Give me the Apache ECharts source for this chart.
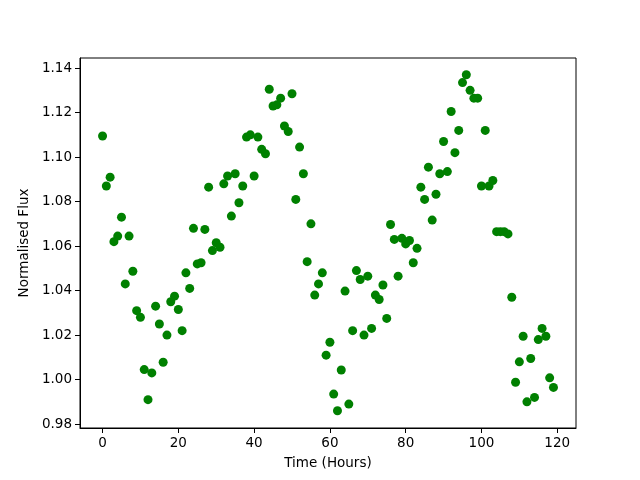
<!DOCTYPE html>
<html>
<head>
<meta charset="utf-8">
<script src="https://cdn.jsdelivr.net/npm/echarts@6/dist/echarts.min.js"></script>
<style>
  html, body { margin: 0; padding: 0; background: #fff; }
  #chart { width: 640px; height: 480px; }
</style>
</head>
<body>
<div id="chart"></div>
<script>
// hours of observation
const hours = [];
for (let h = 0; h < 120; h++) hours.push(h);

// normalised flux
const flux = [
  1.1095, 1.087, 1.091, 1.062, 1.0645, 1.073, 1.043, 1.0645, 1.0487, 1.031,
  1.028, 1.0045, 0.991, 1.003, 1.033, 1.025, 1.0078, 1.020, 1.035, 1.0375,
  1.0315, 1.022, 1.048, 1.041, 1.068, 1.052, 1.0525, 1.0675, 1.0865, 1.058,
  1.0615, 1.0595, 1.088, 1.0915, 1.0735, 1.0925, 1.0795, 1.087, 1.109, 1.110,
  1.0915, 1.109, 1.1035, 1.1015, 1.1305, 1.123, 1.1235, 1.1265, 1.114, 1.1115,
  1.1285, 1.081, 1.1045, 1.0925, 1.053, 1.070, 1.038, 1.043, 1.048, 1.011,
  1.0168, 0.9935, 0.986, 1.0043, 1.0398, 0.989, 1.022, 1.049, 1.045, 1.020,
  1.0465, 1.023, 1.038, 1.036, 1.0425, 1.0275, 1.0697, 1.063, 1.0465, 1.0635,
  1.061, 1.0625, 1.0525, 1.059, 1.0865, 1.081, 1.0955, 1.0717, 1.0833, 1.0925,
  1.107, 1.0935, 1.1205, 1.102, 1.112, 1.1335, 1.137, 1.130, 1.1265, 1.1265,
  1.087, 1.112, 1.087, 1.0895, 1.0665, 1.0665, 1.0665, 1.0655, 1.037, 0.9988,
  1.008, 1.0195, 0.990, 1.0095, 0.992, 1.018, 1.023, 1.0195, 1.0008, 0.9965
];

const xTicks = [0, 20, 40, 60, 80, 100, 120];
const yTicks = [0.98, 1.00, 1.02, 1.04, 1.06, 1.08, 1.10, 1.12, 1.14];

const points = hours.map((h, i) => [h, flux[i]]);

const myChart = echarts.init(document.getElementById('chart'));
const fontFam = 'DejaVu Sans';
const option = {
  animation: false,
  grid: {
    left: 80, right: 64, top: 58, bottom: 52,
    show: true, borderColor: '#000', borderWidth: 1
  },
  xAxis: {
    type: 'value',
    min: -5.95,
    max: 124.95,
    name: 'Time (Hours)',
    nameLocation: 'middle',
    nameGap: 28,
    nameTextStyle: { color: '#000', fontSize: 13.5, fontFamily: fontFam },
    axisLine: { show: true, onZero: false, lineStyle: { color: '#000', width: 1 } },
    axisTick: { show: true, length: 5, customValues: xTicks, lineStyle: { color: '#000' } },
    axisLabel: { customValues: xTicks, margin: 8, color: '#000', fontSize: 13.5, fontFamily: fontFam },
    splitLine: { show: false }
  },
  yAxis: {
    type: 'value',
    min: 0.97825,
    max: 1.14455,
    name: 'Normalised Flux',
    nameLocation: 'middle',
    nameGap: 45,
    nameRotate: 90,
    nameTextStyle: { color: '#000', fontSize: 13.5, fontFamily: fontFam },
    axisLine: { show: true, onZero: false, lineStyle: { color: '#000', width: 1 } },
    axisTick: { show: true, length: 5, customValues: yTicks, lineStyle: { color: '#000' } },
    axisLabel: {
      customValues: yTicks, margin: 8, color: '#000', fontSize: 13.5, fontFamily: fontFam,
      formatter: v => v.toFixed(2)
    },
    splitLine: { show: false }
  },
  series: [
    {
      type: 'scatter',
      data: points,
      symbol: 'circle',
      symbolSize: 9,
      itemStyle: { color: '#008000', opacity: 1 }
    }
  ]
};
myChart.setOption(option);
</script>
</body>
</html>
